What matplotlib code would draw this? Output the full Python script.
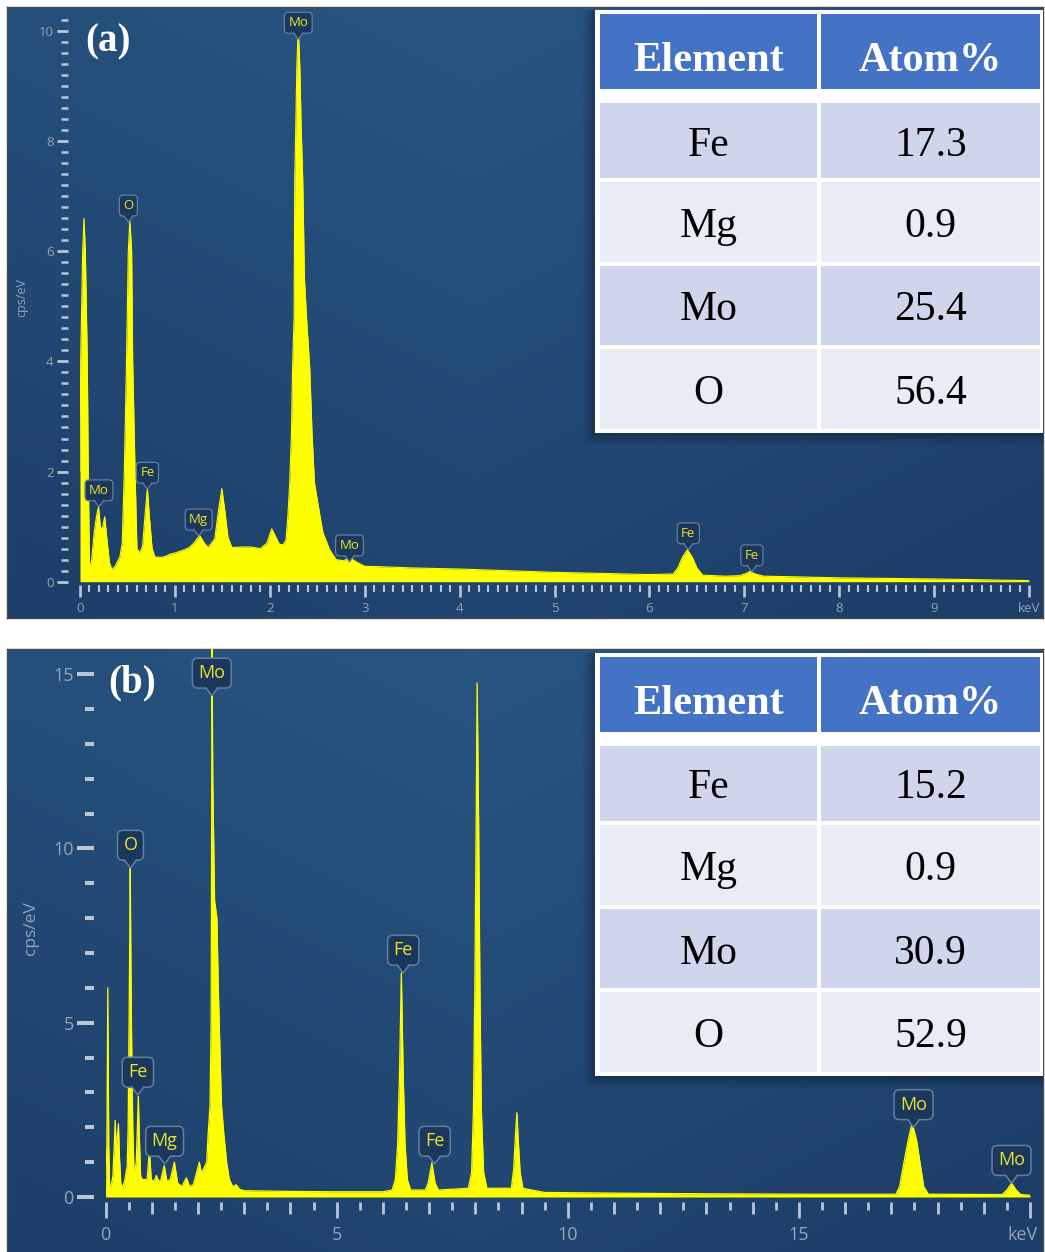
import numpy as np
import matplotlib
matplotlib.use("Agg")
import matplotlib.pyplot as plt
from matplotlib.patches import Rectangle, Polygon
from matplotlib.lines import Line2D
from matplotlib.colors import LinearSegmentedColormap
import matplotlib.transforms as mtransforms

# ---------------- data ----------------
# panel (a) spectrum: energy (keV) and counts (cps/eV)
a_energy = [0.000, 0.007, 0.028, 0.042, 0.056, 0.077, 0.087, 0.100, 0.120, 0.150,
            0.175, 0.195, 0.215, 0.235, 0.260, 0.285, 0.310, 0.335, 0.370, 0.420,
            0.445, 0.467, 0.490, 0.509, 0.525, 0.544, 0.555, 0.580, 0.600, 0.630,
            0.660, 0.685, 0.710, 0.730, 0.760, 0.790, 0.850, 0.900, 0.950, 1.000,
            1.050, 1.100, 1.150, 1.200, 1.260, 1.310, 1.350, 1.420, 1.460, 1.495,
            1.525, 1.560, 1.600, 1.700, 1.800, 1.900, 1.970, 2.020, 2.060, 2.100,
            2.140, 2.170, 2.190, 2.210, 2.228, 2.240, 2.256, 2.263, 2.274, 2.285,
            2.300, 2.316, 2.330, 2.347, 2.365, 2.386, 2.420, 2.445, 2.470, 2.530,
            2.560, 2.630, 2.700, 2.780, 2.840, 2.920, 3.000, 3.200, 3.500, 4.000,
            4.500, 5.000, 5.500, 6.000, 6.250, 6.300, 6.350, 6.400, 6.450, 6.500,
            6.560, 6.800, 6.950, 7.020, 7.060, 7.100, 7.200, 7.500, 8.000, 8.500,
            9.000, 9.500, 10.00]
a_counts = [2.00, 4.00, 6.00, 6.60, 6.00, 4.00, 2.00, 0.30, 0.35, 0.90,
            1.20, 1.36, 1.00, 0.95, 1.18, 0.75, 0.35, 0.22, 0.28, 0.45,
            0.70, 2.00, 4.00, 6.00, 6.55, 6.00, 4.00, 2.00, 0.60, 0.52,
            0.65, 1.20, 1.70, 1.20, 0.60, 0.45, 0.44, 0.46, 0.50, 0.52,
            0.55, 0.58, 0.62, 0.70, 0.84, 0.70, 0.62, 0.78, 1.30, 1.69,
            1.30, 0.80, 0.62, 0.63, 0.63, 0.60, 0.70, 0.96, 0.82, 0.68,
            0.67, 0.75, 1.18, 1.80, 2.70, 3.90, 4.80, 7.30, 8.27, 9.36,
            10.05, 9.36, 8.27, 7.30, 5.50, 4.82, 3.91, 2.70, 1.80, 1.18,
            0.89, 0.58, 0.40, 0.38, 0.44, 0.35, 0.28, 0.27, 0.25, 0.23,
            0.20, 0.17, 0.15, 0.13, 0.14, 0.25, 0.45, 0.58, 0.45, 0.25,
            0.12, 0.10, 0.11, 0.15, 0.19, 0.15, 0.10, 0.09, 0.07, 0.06,
            0.05, 0.035, 0.02]

# panel (b) spectrum
b_energy = [0.000, 0.030, 0.050, 0.070, 0.090, 0.120, 0.160, 0.190, 0.210, 0.230,
            0.250, 0.280, 0.300, 0.330, 0.370, 0.420, 0.470, 0.490, 0.510, 0.525,
            0.535, 0.545, 0.560, 0.590, 0.615, 0.640, 0.665, 0.690, 0.710, 0.730,
            0.760, 0.800, 0.900, 0.950, 0.990, 1.050, 1.100, 1.150, 1.200, 1.270,
            1.330, 1.400, 1.490, 1.560, 1.650, 1.750, 1.820, 1.900, 1.970, 2.030,
            2.070, 2.120, 2.190, 2.220, 2.260, 2.285, 2.295, 2.305, 2.320, 2.360,
            2.410, 2.440, 2.460, 2.490, 2.510, 2.560, 2.620, 2.680, 2.750, 2.830,
            2.900, 3.000, 4.000, 5.000, 6.000, 6.200, 6.270, 6.320, 6.360, 6.400,
            6.440, 6.480, 6.530, 6.600, 6.920, 6.980, 7.060, 7.130, 7.200, 7.850,
            7.920, 7.960, 7.990, 8.020, 8.040, 8.070, 8.100, 8.130, 8.180, 8.250,
            8.780, 8.830, 8.870, 8.900, 8.930, 8.970, 9.030, 9.500, 12.00, 15.00,
            17.10, 17.18, 17.26, 17.36, 17.45, 17.55, 17.63, 17.70, 17.80, 19.40,
            19.50, 19.60, 19.70, 19.80, 20.00]
b_counts = [0.30, 1.50, 6.00, 1.50, 0.30, 0.30, 0.60, 1.50, 2.20, 1.40,
            1.60, 2.10, 1.20, 0.40, 0.25, 0.50, 0.90, 2.00, 5.00, 7.50,
            9.44, 7.50, 5.00, 2.00, 0.80, 0.78, 1.00, 2.00, 2.89, 1.80,
            0.60, 0.50, 0.50, 1.35, 0.50, 0.45, 0.62, 0.45, 0.50, 0.90,
            0.45, 0.50, 1.00, 0.40, 0.30, 0.55, 0.30, 0.35, 0.70, 1.00,
            0.70, 0.80, 1.00, 1.80, 2.60, 5.00, 10.0, 15.9, 12.0, 8.50,
            8.00, 6.00, 5.00, 3.50, 2.60, 1.80, 1.00, 0.50, 0.30, 0.35,
            0.22, 0.18, 0.16, 0.15, 0.15, 0.20, 0.50, 1.50, 3.50, 6.43,
            3.50, 1.50, 0.50, 0.20, 0.20, 0.40, 0.98, 0.40, 0.20, 0.25,
            0.70, 2.50, 6.00, 11.0, 14.75, 11.0, 6.00, 2.50, 0.70, 0.25,
            0.25, 0.80, 1.80, 2.42, 1.60, 0.70, 0.25, 0.13, 0.10, 0.08,
            0.08, 0.30, 0.90, 1.60, 2.13, 1.60, 0.90, 0.30, 0.08, 0.07,
            0.20, 0.40, 0.20, 0.07, 0.05]

# peak callouts: element, energy (keV), height of pointer tip
a_label_text = ['Mo', 'O', 'Fe', 'Mg', 'Mo', 'Mo', 'Fe', 'Fe']
a_label_x = [0.20, 0.51, 0.71, 1.25, 2.30, 2.84, 6.41, 7.08]
a_label_y = [1.36, 6.53, 1.68, 0.83, 9.85, 0.36, 0.58, 0.18]

b_label_text = ['Mo', 'O', 'Fe', 'Mg', 'Fe', 'Fe', 'Mo', 'Mo']
b_label_x = [2.30, 0.54, 0.70, 1.28, 6.44, 7.12, 17.48, 19.60]
b_label_y = [14.38, 9.44, 2.93, 0.95, 6.43, 0.95, 2.00, 0.40]

# tick labels
a_xticks = [0, 1, 2, 3, 4, 5, 6, 7, 8, 9, 10]
a_xticklabels = ['0', '1', '2', '3', '4', '5', '6', '7', '8', '9', 'keV']
a_yticks = [0, 2, 4, 6, 8, 10]
b_xticks = [0, 5, 10, 15, 20]
b_xticklabels = ['0', '5', '10', '15', 'keV']
b_yticks = [0, 5, 10, 15]

# composition tables
table_header = ['Element', 'Atom%']
elements = ['Fe', 'Mg', 'Mo', 'O']
a_atom_pct = [17.3, 0.9, 25.4, 56.4]
b_atom_pct = [15.2, 0.9, 30.9, 52.9]

# ---------------- style ----------------
plt.rcParams['font.family'] = ['Open Sans', 'DejaVu Sans']
YELLOW = '#FFFF00'
TICK = '#bcc6d2'
TICKLAB = '#93a5ba'
BOX_FC = '#1b375b'
BOX_EC = '#62809f'
LABEL_TXT = '#e6e632'
SERIF = ['Liberation Serif', 'DejaVu Serif']

W, H = 1045, 1252
fig = plt.figure(figsize=(W / 100, H / 100), dpi=100, facecolor='white')


def fx(px):
    return px / W


def fy(py):
    return 1 - py / H


def frect(x0, y0, x1, y1):
    return [fx(x0), fy(y1), (x1 - x0) / W, (y1 - y0) / H]


bg_cmap = LinearSegmentedColormap.from_list('bg', ['#1c3e68', '#295582'])


def panel_background(x0, y0, x1, y1):
    axb = fig.add_axes(frect(x0, y0, x1, y1), zorder=0)
    yy, xx = np.mgrid[0:1:120j, 0:1:160j]
    t = np.clip(0.7 * (1 - yy) + 0.3 * (1 - np.abs(xx - 0.45) * 2), 0, 1)
    axb.imshow(t, cmap=bg_cmap, aspect='auto', extent=[0, 1, 0, 1],
               origin='upper', interpolation='bilinear', vmin=0, vmax=1)
    axb.set_xticks([])
    axb.set_yticks([])
    for s in axb.spines.values():
        s.set_color('#4a4a4a')
        s.set_linewidth(1.0)
    return axb


panel_background(7, 7, 1043, 618)
panel_background(7, 649, 1043, 1258)


def callout(ax, text, x, y, fs, pad, notch, half, lw):
    ax.annotate(text, xy=(x, y), xytext=(0, notch + pad * fs),
                textcoords='offset points', ha='center', va='bottom',
                fontsize=fs, color=LABEL_TXT, zorder=6, annotation_clip=False,
                bbox=dict(boxstyle=f'round,pad={pad},rounding_size=0.3',
                          fc=BOX_FC, ec=BOX_EC, lw=lw))
    tr = (mtransforms.Affine2D().scale(1 / 72) + fig.dpi_scale_trans +
          mtransforms.ScaledTranslation(x, y, ax.transData))
    tri = Polygon([(-half, notch + 1.0), (half, notch + 1.0), (0, 0)], closed=True,
                  transform=tr, fc=BOX_FC, ec='none', zorder=7, clip_on=False)
    ax.add_artist(tri)
    ax.add_artist(Line2D([-half, 0, half], [notch, 0, notch], transform=tr,
                         color=BOX_EC, lw=lw, zorder=7, clip_on=False))


def style_axes(ax):
    ax.patch.set_visible(False)
    for s in ax.spines.values():
        s.set_visible(False)


# ---------------- panel (a) ----------------
ax_a = fig.add_axes(frect(80, 15, 1029, 581.7), zorder=2)
style_axes(ax_a)
ax_a.fill_between(a_energy, a_counts, 0, color=YELLOW, lw=0, zorder=2)
ax_a.plot(a_energy, a_counts, color=YELLOW, lw=0.8, zorder=2)
for t, x, y in zip(a_label_text, a_label_x, a_label_y):
    callout(ax_a, t, x, y, fs=9.5, pad=0.3, notch=4.3, half=3.2, lw=0.9)

ax_a.spines['left'].set_position(('outward', 8.6))
ax_a.spines['bottom'].set_position(('outward', 2.2))
ax_a.set_xticks(a_xticks)
ax_a.set_xticklabels(a_xticklabels)
ax_a.set_xticks(np.arange(0, 10.001, 0.1), minor=True)
ax_a.set_yticks(a_yticks)
ax_a.set_yticklabels([str(v) for v in a_yticks])
ax_a.set_yticks(np.arange(0, 10.25, 0.2), minor=True)
ax_a.tick_params(axis='x', which='major', length=8.6, width=1.9, color=TICK,
                 pad=4.0, labelsize=9.5, labelcolor=TICKLAB)
ax_a.tick_params(axis='x', which='minor', length=5.0, width=1.5, color=TICK)
ax_a.tick_params(axis='y', which='major', length=7.9, width=2.0, color=TICK,
                 pad=2.5, labelsize=9.5, labelcolor=TICKLAB)
ax_a.tick_params(axis='y', which='minor', length=4.8, width=1.8, color=TICK)
ax_a.set_xlim(0, 10)
ax_a.set_ylim(0, 10.29)
fig.text(fx(22), fy(297), 'cps/eV', rotation=90, ha='center', va='center',
         fontsize=9, color=TICKLAB)

# ---------------- panel (b) ----------------
b_rect = frect(105.5, 649, 1030, 1197)
ax_b = fig.add_axes(b_rect, zorder=2)
style_axes(ax_b)
ax_b.fill_between(b_energy, b_counts, 0, color=YELLOW, lw=0, zorder=2)
ax_b.plot(b_energy, b_counts, color=YELLOW, lw=0.9, zorder=2)
for t, x, y in zip(b_label_text, b_label_x, b_label_y):
    callout(ax_b, t, x, y, fs=13, pad=0.33, notch=5.5, half=4.2, lw=1.1)

ax_b.spines['left'].set_position(('outward', 8.3))
ax_b.spines['bottom'].set_position(('outward', 3.6))
ax_b.set_xticks(b_xticks)
ax_b.set_xticklabels(b_xticklabels)
ax_b.set_xticks([i for i in range(21) if i % 5], minor=True)
ax_b.set_yticks(b_yticks)
ax_b.set_yticklabels([str(v) for v in b_yticks])
ax_b.set_yticks(range(0, 16), minor=True)
ax_b.tick_params(axis='x', which='major', length=11.5, width=2.0, color=TICK,
                 pad=6, labelsize=13, labelcolor=TICKLAB)
ax_b.tick_params(axis='x', which='minor', length=8.4, width=2.0, color=TICK)
ax_b.tick_params(axis='y', which='major', length=12.5, width=2.9, color=TICK,
                 pad=2, labelsize=13, labelcolor=TICKLAB)
ax_b.tick_params(axis='y', which='minor', length=6.5, width=2.9, color=TICK)
ax_b.set_xlim(0, 20)
ax_b.set_ylim(0, 15.72)
# shift the 'keV' unit label slightly left so it stays inside the panel
kev_lbl = ax_b.get_xticklabels()[-1]
kev_lbl.set_transform(kev_lbl.get_transform() +
                      mtransforms.ScaledTranslation(-0.07, 0, fig.dpi_scale_trans))

ax_b2 = fig.add_axes(b_rect, zorder=1)
style_axes(ax_b2)
ax_b2.spines['bottom'].set_position(('outward', 3.6))
ax_b2.set_xlim(0, 20)
ax_b2.set_ylim(0, 1)
ax_b2.set_yticks([])
ax_b2.set_xticks(np.arange(0.5, 20, 1.0))
ax_b2.tick_params(axis='x', length=6.0, width=2.0, color=TICK, labelbottom=False)
fig.text(fx(31), fy(928), 'cps/eV', rotation=90, ha='center', va='center',
         fontsize=12.5, color=TICKLAB)

# panel letters
fig.text(fx(108), fy(42), '(a)', ha='center', va='center', fontsize=28,
         fontweight='bold', color='white', family=SERIF, zorder=8)
fig.text(fx(132), fy(683), '(b)', ha='center', va='center', fontsize=28,
         fontweight='bold', color='white', family=SERIF, zorder=8)


# ---------------- tables ----------------
def add_rect(x0, y0, x1, y1, color, z, alpha=1.0):
    fig.add_artist(Rectangle((fx(x0), fy(y1)), (x1 - x0) / W, (y1 - y0) / H,
                             transform=fig.transFigure, fc=color, lw=0,
                             alpha=alpha, zorder=z))


def draw_table(dy, values):
    for d, al in [(12, 0.05), (9, 0.06), (6, 0.07), (3, 0.09)]:
        add_rect(595 - d, 10 + dy, 1043, 433 + d + dy, 'black', 3, al)
    add_rect(595, 10 + dy, 1043, 433 + dy, 'white', 4)
    cols = [(600, 817), (821, 1040)]
    for (c0, c1), h in zip(cols, table_header):
        add_rect(c0, 14 + dy, c1, 89 + dy, '#4472C4', 5)
        fig.text(fx((c0 + c1) / 2), fy(71 + dy), h, ha='center', va='baseline',
                 fontsize=30.5, fontweight='bold', color='white', family=SERIF,
                 zorder=6)
    rows = [(103, 178), (182, 262), (266, 345), (349, 429)]
    shades = ['#CFD5EA', '#E9EBF5', '#CFD5EA', '#E9EBF5']
    for (r0, r1), shade, el, v in zip(rows, shades, elements, values):
        base = (r0 + r1) / 2 + 15
        for (c0, c1), txt in zip(cols, [el, f'{v:.1f}']):
            add_rect(c0, r0 + dy, c1, r1 + dy, shade, 5)
            fig.text(fx((c0 + c1) / 2), fy(base + dy), txt, ha='center',
                     va='baseline', fontsize=30, color='black', family=SERIF,
                     zorder=6)


draw_table(0, a_atom_pct)
draw_table(643, b_atom_pct)

fig.savefig('out.png', dpi=100, facecolor='white')
